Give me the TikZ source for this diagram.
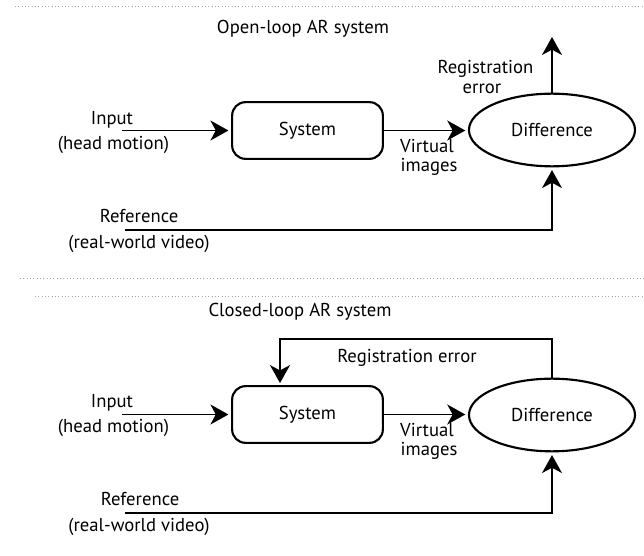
\documentclass[tikz,border=0pt]{standalone}
\usepackage{fontspec}
\setmainfont{PT Sans}
\usetikzlibrary{arrows.meta,shapes.geometric}
\begin{document}
\begin{tikzpicture}[x=0.75pt,y=-0.75pt,
  lbl/.style={font=\fontsize{14pt}{16pt}\selectfont, inner sep=0pt, anchor=base},
  sysbox/.style={draw, line width=1.6pt, rounded corners=10pt, minimum width=113pt,
    minimum height=42.5pt, inner sep=0pt, font=\fontsize{14pt}{16pt}\selectfont},
  diffell/.style={draw, ellipse, line width=1.6pt, minimum width=124.5pt,
    minimum height=54.5pt, inner sep=0pt, font=\fontsize{14pt}{16pt}\selectfont},
  flow/.style={line width=1.1pt, -{Stealth[length=13.5pt,width=15pt,inset=4pt]}},
  scanrule/.style={black!35, dotted, line width=0.5pt}]
\useasboundingbox (0,0) rectangle (644,556);

% faint rules separating the two panels
\draw[scanrule] (15,6) -- (644,6);
\draw[scanrule] (20,278) -- (644,278);
\draw[scanrule] (35,296) -- (644,296);

% ---------------- open loop ----------------
\node[lbl] (title1) at (303,34) {Open-loop AR system};
\node[sysbox] (sys1) at (307.5,130.5) {System};
\node[diffell] (diff1) at (552,130) {Difference};

\coordinate (in1) at (122,130.5);
\coordinate (err1) at (552,37);
\coordinate (ref1) at (125,230);

\draw[flow, shorten >=2pt] (in1) -- (sys1.west);
\draw[flow, shorten >=2pt] (sys1.east) -- (sys1.east -| diff1.west);
\draw[flow] (diff1.north) -- (err1);
\draw[flow, shorten >=2pt] (ref1) -| (diff1.south);

\node[lbl] (inA1) at (112,125) {Input};
\node[lbl] (inB1) at (113.5,150) {(head motion)};
\node[lbl] (errA1) at (485.5,74) {Registration};
\node[lbl] (errB1) at (482,94) {error};
\node[lbl] (virA1) at (427,153) {Virtual};
\node[lbl] (virB1) at (429,172) {images};
\node[lbl] (refA1) at (139,223) {Reference};
\node[lbl] (refB1) at (139,249) {(real-world video)};

% ---------------- closed loop ----------------
\node[lbl] (title2) at (300,317) {Closed-loop AR system};
\node[sysbox] (sys2) at (307.5,414.5) {System};
\node[diffell] (diff2) at (552,415) {Difference};

\coordinate (in2) at (122,414.5);
\coordinate (fbR) at (552,339);
\coordinate (fbL) at (280,339);
\coordinate (ref2) at (125,513);

\draw[flow, shorten >=2pt] (in2) -- (sys2.west);
\draw[flow, shorten >=2pt] (sys2.east) -- (sys2.east -| diff2.west);
\draw[flow, shorten >=1.5pt] (diff2.north) -- (fbR) -- (fbL) -- (fbL |- sys2.north);
\draw[flow, shorten >=2pt] (ref2) -| (diff2.south);

\node[lbl, anchor=base west] (err2) at (337,363) {Registration error};
\node[lbl] (inA2) at (112,407.5) {Input};
\node[lbl] (inB2) at (113.5,432.5) {(head motion)};
\node[lbl] (virA2) at (427,437) {Virtual};
\node[lbl] (virB2) at (429,456) {images};
\node[lbl] (refA2) at (140,506) {Reference};
\node[lbl] (refB2) at (139,532) {(real-world video)};
\end{tikzpicture}
\end{document}
